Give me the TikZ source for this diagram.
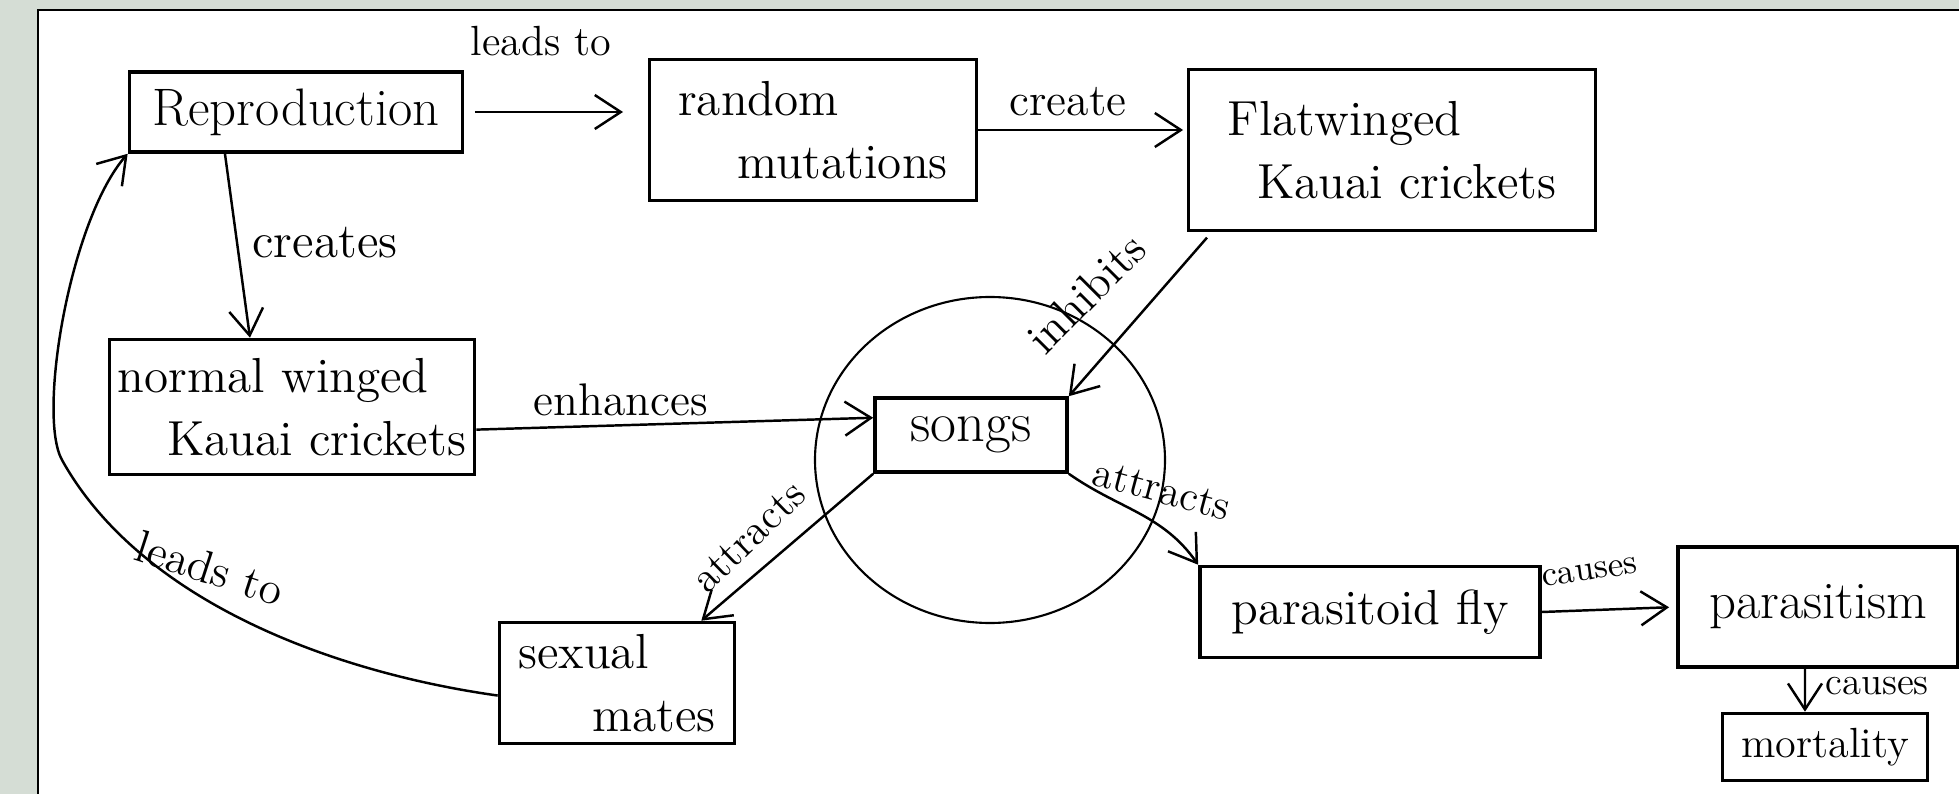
\documentclass[tikz,border=0pt]{standalone}
\usepackage{tikz}
\usetikzlibrary{arrows.meta, positioning}
\definecolor{framegray}{RGB}{213,221,213}

\tikzset{
    box/.style={draw, line width=1pt, inner sep=0pt, font=\fontsize{14}{18}\selectfont},
    lbl/.style={inner sep=0pt, font=\fontsize{12}{14}\selectfont},
    arr/.style={line width=0.7pt, -{Straight Barb[length=2.6mm, width=3.4mm]}}
}

\begin{document}
\begin{tikzpicture}[x=0.01cm, y=0.01cm]
    % Rahmen und Papier
    \useasboundingbox (0,0) rectangle (1959,-794);
    \fill[framegray] (0,0) rectangle (1959,-794);
    \fill[white] (38,-10) rectangle (1959,-794);
    \draw[line width=0.7pt] (38,-794) -- (38,-10) -- (1959,-10);

    % Begriffe
    \node[box, minimum width=3.33cm, minimum height=0.80cm, font=\fontsize{15}{18}\selectfont] (repro) at (296,-112) {Reproduction};
    \node[box, minimum width=3.27cm, minimum height=1.41cm, align=left] (random) at (813,-130) {random\\\hspace*{1.2em}mutations};
    \node[box, minimum width=4.07cm, minimum height=1.61cm, align=left] (flat) at (1392,-150) {Flatwinged\\\hspace*{0.6em}Kauai crickets};
    \node[box, minimum width=3.65cm, minimum height=1.35cm, align=left] (normal) at (292,-407) {normal winged\\\hspace*{1em}Kauai crickets};
    \node[box, minimum width=1.92cm, minimum height=0.74cm, font=\fontsize{16}{18}\selectfont] (songs) at (971,-435) {songs};
    \node[box, minimum width=2.35cm, minimum height=1.21cm, align=left] (mates) at (617,-683) {sexual\\\hspace*{1.5em}mates};
    \node[box, minimum width=3.40cm, minimum height=0.91cm] (fly) at (1370,-612) {parasitoid fly};
    \node[box, minimum width=2.80cm, minimum height=1.20cm, font=\fontsize{15}{18}\selectfont] (parasit) at (1818,-607) {parasitism};
    \node[box, minimum width=2.05cm, minimum height=0.67cm, font=\fontsize{12}{14}\selectfont] (mortal) at (1825,-747) {mortality};

    % Kreis um songs
    \draw[line width=0.6pt] (990,-460) ellipse [x radius=175, y radius=163];

    % Pfeile
    \draw[arr, shorten <=3pt, shorten >=7pt] (repro.east) -- (repro.east -| random.west);
    \draw[arr, shorten >=1pt] (random.east) -- (random.east -| flat.west);
    \draw[arr] ([xshift=-0.71cm]repro.south) -- ([xshift=-0.42cm]normal.north);
    \draw[arr] (normal.-7) -- (songs.170);
    \draw[arr, shorten <=2pt] ([xshift=0.25cm]flat.south west) -- (songs.north east);
    \draw[arr] (songs.south west) -- ([xshift=-0.35cm]mates.north east);
    \draw[arr] (songs.south east) to[out=-35, in=125] (fly.north west);
    \draw[arr, shorten >=2pt] (fly.east) -- (parasit.west);
    \draw[arr] ([xshift=-0.13cm]parasit.south) -- ([xshift=-0.2cm]mortal.north);
    \coordinate (bend) at (62,-460);
    \draw[arr] (mates.186) .. controls (330,-672) and (140,-600) .. (bend)
        .. controls (37,-415) and (70,-220) .. (repro.south west);

    % Beschriftungen
    \node[lbl] (l1) at (541,-41) {leads to};
    \node[lbl, font=\fontsize{13}{15}\selectfont] (l2) at (1068,-102) {create};
    \node[lbl, font=\fontsize{14}{16}\selectfont] (l3) at (325,-243) {creates};
    \node[lbl, font=\fontsize{13}{15}\selectfont] (l4) at (621,-400) {enhances};
    \node[lbl, font=\fontsize{13}{15}\selectfont, rotate=45] (l5) at (1086,-293) {inhibits};
    \node[lbl, rotate=44] (l6) at (749,-537) {attracts};
    \node[lbl, rotate=-15] (l7) at (1162,-490) {attracts};
    \node[lbl, font=\fontsize{10}{12}\selectfont, rotate=8] (l8) at (1590,-572) {causes};
    \node[lbl, font=\fontsize{11}{13}\selectfont] (l9) at (1877,-686) {causes};
    \node[lbl, font=\fontsize{13}{15}\selectfont, rotate=-18] (l10) at (210,-568) {leads to};
\end{tikzpicture}
\end{document}
